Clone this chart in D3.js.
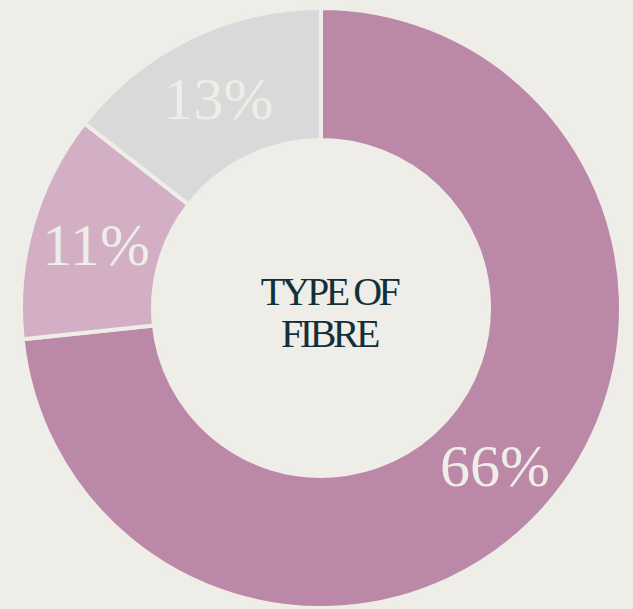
<!DOCTYPE html>
<html>
<head>
<meta charset="utf-8">
<script src="https://cdn.jsdelivr.net/npm/d3@7"></script>
<style>
  body { margin: 0; background: #efede7; }
  svg { display: block; }
</style>
</head>
<body>
<div id="chart"></div>
<script>
// fibre type donut

var labels = ["66%", "11%", "13%"],
    values = [66, 11, 13],
    colors = ["#bb88a8", "#d3afc5", "#d9d9d9"],
    titleLines = ["TYPE OF", "FIBRE"];

var width = 633,
    height = 609,
    cx = 321,
    cy = 308,
    outerR = 300,
    innerR = 168;

var svg = d3.select("#chart").append("svg")
    .attr("width", width)
    .attr("height", height);

svg.append("rect")
    .attr("width", width)
    .attr("height", height)
    .attr("fill", "#efede7");

var g = svg.append("g")
    .attr("transform", "translate(" + cx + "," + cy + ")");

var pie = d3.pie().sort(null).value(function(d){ return d; });
var arc = d3.arc().innerRadius(innerR).outerRadius(outerR);
var labelArc = d3.arc().innerRadius(234).outerRadius(234);

var slices = pie(values);

g.selectAll("path")
  .data(slices)
.enter()
  .append("path")
  .attr("d", arc)
  .attr("fill", function(d, i){ return colors[i]; })
  .attr("stroke", "#efede7")
  .attr("stroke-width", 4);

g.selectAll("text.pct")
  .data(slices)
.enter()
  .append("text")
  .attr("class", "pct")
  .attr("transform", function(d){ return "translate(" + labelArc.centroid(d) + ")"; })
  .attr("text-anchor", "middle")
  .attr("dy", "0.36em")
  .attr("fill", "#efede7")
  .style("font-family", "'Liberation Serif', 'DejaVu Serif', serif")
  .style("font-size", "60px")
  .text(function(d, i){ return labels[i]; });

g.selectAll("text.title")
  .data(titleLines)
.enter()
  .append("text")
  .attr("class", "title")
  .attr("text-anchor", "middle")
  .attr("x", 8)
  .attr("y", function(d, i){ return -3 + i * 42; })
  .attr("fill", "#12303a")
  .style("font-family", "'Liberation Serif', 'DejaVu Serif', serif")
  .style("font-size", "40px")
  .style("letter-spacing", "-3.5px")
  .text(function(d){ return d; });
</script>
</body>
</html>
